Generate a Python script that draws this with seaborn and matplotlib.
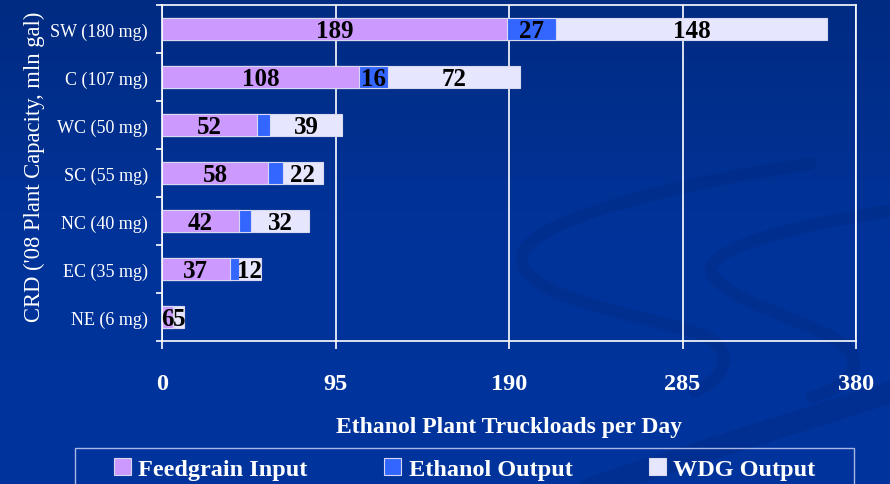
import numpy as np
import pandas as pd
import seaborn as sns
import matplotlib.pyplot as plt
from matplotlib.patches import Patch, Rectangle, PathPatch
from matplotlib.path import Path
from matplotlib.colors import LinearSegmentedColormap

# ---- data ----
regions = ["SW (180 mg)", "C (107 mg)", "WC (50 mg)", "SC (55 mg)",
           "NC (40 mg)", "EC (35 mg)", "NE (6 mg)"]
feedgrain = [189, 108, 52, 58, 42, 37, 6]
ethanol = [27, 16, 7.3, 8.2, 6.6, 5, 0.8]
wdg = [148, 72, 39, 22, 32, 12, 5]
ethanol_labels = ["27", "16", "", "", "", "", ""]
xticks = [0, 95, 190, 285, 380]
series_names = ["Feedgrain Input", "Ethanol Output", "WDG Output"]
colors = ["#CC99FF", "#3366FF", "#E6E6FF"]
ylabel = "CRD ('08 Plant Capacity, mln gal)"
xlabel = "Ethanol Plant Truckloads per Day"

df = pd.DataFrame({"region": regions, "feed": feedgrain, "eth": ethanol, "wdg": wdg})
df["fe"] = df["feed"] + df["eth"]
df["total"] = df["fe"] + df["wdg"]

SERIF = ["Liberation Serif", "DejaVu Serif"]
plt.rcParams["font.family"] = SERIF

W, H = 890, 485
fig = plt.figure(figsize=(W / 100, H / 100), dpi=100)

# background gradient + swirl decoration
bg = fig.add_axes([0, 0, 1, 1], zorder=-10)
cmap = LinearSegmentedColormap.from_list("bg", ["#002b82", "#00339a", "#00349c"])
grad = np.linspace(0, 1, 256).reshape(-1, 1)
bg.imshow(grad, aspect="auto", cmap=cmap, extent=[0, W, H, 0])
bg.set_xlim(0, W)
bg.set_ylim(H, 0)
bg.axis("off")

def swoosh(pts, color, lw, alpha):
    codes = [Path.MOVETO] + [Path.CURVE4] * (len(pts) - 1)
    bg.add_patch(PathPatch(Path(pts, codes), facecolor="none", edgecolor=color,
                           lw=lw, alpha=alpha, capstyle="round", joinstyle="round"))

swoosh([(810, 165), (700, 180), (520, 220), (522, 260),
        (524, 300), (640, 315), (700, 335),
        (730, 345), (735, 375), (695, 392)], "#00287a", 9, 0.3)
swoosh([(890, 212), (800, 225), (700, 250), (712, 275),
        (725, 300), (800, 320), (835, 340),
        (865, 355), (860, 385), (812, 398)], "#00287a", 9, 0.3)
swoosh([(590, 490), (700, 452), (800, 422), (895, 392)], "#00287a", 16, 0.3)

# main axes
ax = fig.add_axes([162 / W, 1 - 342 / H, (856 - 162) / W, (342 - 6) / H])
ax.set_facecolor("none")

edge = "#D8D8F0"
common = dict(data=df, y="region", orient="h", width=0.44, saturation=1,
              edgecolor=edge, linewidth=0.8, ax=ax)
sns.barplot(x="total", color=colors[2], **common)
sns.barplot(x="fe", color=colors[1], **common)
sns.barplot(x="feed", color=colors[0], **common)

ax.set_xlim(0, 380)
ax.set_ylim(len(regions) - 0.5, -0.5)
ax.set_xticks(xticks)
ax.set_xticklabels([str(t) for t in xticks])

# value labels
lab_kw = dict(ha="center", va="center", fontsize=18, fontweight="bold",
              color="black", family=SERIF)
for i, row in df.iterrows():
    ax.text(row["feed"] / 2, i + 0.03, f"{feedgrain[i]}", **lab_kw)
    if ethanol_labels[i]:
        ax.text(row["feed"] + row["eth"] / 2, i + 0.03, ethanol_labels[i], **lab_kw)
    ax.text(row["fe"] + row["wdg"] / 2, i + 0.03, f"{wdg[i]}", **lab_kw)

# grid, spines, ticks
ax.set_axisbelow(True)
ax.grid(axis="x", color="white", lw=1.2)
ax.grid(axis="y", visible=False)
for s in ax.spines.values():
    s.set_color("white")
    s.set_linewidth(1.2)
ax.set_yticks(np.arange(-0.5, len(regions) + 0.5, 1), minor=True)
ax.tick_params(axis="y", which="major", length=0, pad=10, labelcolor="white",
               labelsize=13)
ax.tick_params(axis="y", which="minor", length=4, width=1.2, color="white",
               direction="out")
ax.tick_params(axis="x", which="major", length=6, width=1.2, color="white",
               direction="out", pad=17, labelcolor="white", labelsize=17.5)
for t in ax.get_xticklabels():
    t.set_fontweight("bold")

ax.set_xlabel(xlabel, color="white", fontsize=17, fontweight="bold", labelpad=16)
ax.set_ylabel(ylabel, color="white", fontsize=16.3)
ax.yaxis.set_label_coords(-0.168, 0.52)

# legend
handles = [Patch(facecolor=c, edgecolor=edge, lw=0.8) for c in colors]
fig.legend(handles, series_names, loc="center left",
           bbox_to_anchor=(114 / W, 1 - 470 / H), ncol=3, frameon=False,
           borderpad=0, borderaxespad=0, handlelength=0.7, handleheight=0.7,
           handletextpad=0.3, columnspacing=3.15,
           prop=dict(family=SERIF, size=17.5, weight="bold"), labelcolor="white")
fig.add_artist(Rectangle((75 / W, -0.05), (854 - 75) / W, 0.05 + (485 - 449) / H,
                         transform=fig.transFigure, fill=False,
                         edgecolor="#a9b6e6", lw=1.0))

fig.savefig("out.png", dpi=100, facecolor="#003399")
